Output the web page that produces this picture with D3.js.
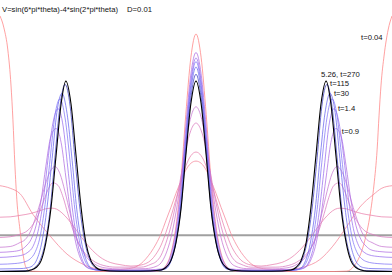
<!DOCTYPE html>
<html>
<head>
<meta charset="utf-8">
<script src="https://cdnjs.cloudflare.com/ajax/libs/d3/7.8.5/d3.min.js"></script>
<style>
body { margin: 0; background: #fff; }
text { font-family: 'Liberation Sans', Arial, sans-serif; font-size: 7.7px; fill: #111; }
</style>
</head>
<body>
<script>
// density p(theta) at several times, [theta, p]
var p004 = [[0,7.06],[.010,6.73],[.020,6.12],[.028,5.15],[.033,4.19],[.038,2.94],[.043,1.98],[.051,1.15],[.059,.46],[.066,.12],[.077,.01],[.102,0],[.383,0],[.398,.01],[.411,.04],[.423,.16],[.436,.5],[.449,1.25],[.462,2.59],[.474,4.34],[.487,5.92],[.5,6.56],[.513,5.92],[.526,4.34],[.538,2.59],[.551,1.25],[.564,.5],[.577,.16],[.589,.04],[.602,.01],[.617,0],[.855,0],[.885,.01],[.903,.15],[.918,.43],[.931,.87],[.944,1.56],[.954,2.39],[.962,3.36],[.967,4.32],[.972,5.15],[.980,5.98],[.990,6.67],[1,7.06]]
var p01 = [[0,2.37],[.026,2.3],[.051,2.15],[.084,1.58],[.128,.98],[.171,.48],[.212,.2],[.247,.08],[.293,.05],[.321,.07],[.347,.13],[.360,.22],[.372,.35],[.385,.53],[.398,.76],[.411,1.05],[.423,1.4],[.436,1.77],[.449,2.16],[.462,2.51],[.474,2.8],[.487,2.99],[.5,3.05],[.513,2.99],[.526,2.8],[.538,2.51],[.551,2.16],[.564,1.77],[.577,1.4],[.589,1.05],[.602,.76],[.615,.53],[.628,.35],[.640,.22],[.653,.13],[.679,.07],[.727,.05],[.773,.12],[.816,.33],[.849,.7],[.885,1.25],[.918,1.78],[.952,2.12],[.974,2.3],[1,2.37]]
var p02 = [[0,1.5],[.026,1.51],[.051,1.55],[.077,1.6],[.102,1.68],[.120,1.74],[.133,1.75],[.145,1.72],[.158,1.62],[.173,1.45],[.191,1.2],[.209,.93],[.230,.65],[.255,.4],[.281,.25],[.306,.19],[.334,.15],[.360,.18],[.372,.22],[.385,.31],[.398,.48],[.411,.73],[.423,1.07],[.436,1.51],[.449,2.0],[.462,2.49],[.474,2.91],[.487,3.2],[.5,3.3],[.513,3.2],[.526,2.91],[.538,2.49],[.551,2.0],[.564,1.51],[.577,1.07],[.589,.73],[.602,.48],[.615,.31],[.628,.22],[.640,.18],[.666,.15],[.694,.19],[.719,.25],[.745,.4],[.770,.65],[.791,.93],[.809,1.2],[.827,1.45],[.842,1.62],[.855,1.72],[.867,1.75],[.880,1.74],[.898,1.68],[.923,1.6],[.949,1.55],[.974,1.51],[1,1.5]]
var p04 = [[0,.94],[.026,.96],[.051,1.03],[.069,1.12],[.084,1.3],[.097,1.55],[.110,1.9],[.122,2.25],[.135,2.45],[.148,2.38],[.161,2.05],[.173,1.6],[.186,1.15],[.199,.8],[.217,.5],[.237,.3],[.263,.17],[.296,.12],[.334,.12],[.360,.12],[.385,.2],[.398,.27],[.411,.45],[.423,.78],[.436,1.25],[.449,1.9],[.462,2.65],[.474,3.37],[.487,3.9],[.5,4.1],[.513,3.9],[.526,3.37],[.538,2.65],[.551,1.9],[.564,1.25],[.577,.78],[.589,.45],[.602,.27],[.615,.2],[.640,.12],[.666,.12],[.704,.12],[.737,.17],[.763,.3],[.783,.5],[.801,.8],[.814,1.15],[.827,1.6],[.839,2.05],[.852,2.38],[.865,2.45],[.878,2.25],[.890,1.9],[.903,1.55],[.916,1.3],[.931,1.12],[.949,1.03],[.974,.96],[1,.94]]
var p06 = [[0,.67],[.026,.69],[.051,.8],[.064,.88],[.077,1.09],[.089,1.43],[.102,1.88],[.115,2.38],[.128,2.76],[.140,2.9],[.153,2.7],[.166,2.2],[.179,1.6],[.191,1.08],[.204,.7],[.222,.38],[.242,.2],[.268,.1],[.306,.07],[.334,.07],[.372,.08],[.398,.14],[.411,.24],[.423,.48],[.436,.93],[.449,1.64],[.462,2.56],[.474,3.53],[.487,4.27],[.5,4.55],[.513,4.27],[.526,3.53],[.538,2.56],[.551,1.64],[.564,.93],[.577,.48],[.589,.24],[.602,.14],[.628,.08],[.666,.07],[.694,.07],[.732,.1],[.758,.2],[.778,.38],[.796,.7],[.809,1.08],[.821,1.6],[.834,2.2],[.847,2.7],[.860,2.9],[.872,2.76],[.885,2.38],[.898,1.88],[.911,1.43],[.923,1.09],[.936,.88],[.949,.8],[.974,.69],[1,.67]]
var p09 = [[0,.53],[.031,.55],[.054,.6],[.066,.7],[.079,.88],[.092,1.27],[.105,1.98],[.117,2.91],[.130,3.74],[.143,3.95],[.156,3.56],[.168,2.61],[.181,1.56],[.194,.76],[.207,.32],[.219,.13],[.237,.07],[.281,.05],[.334,.04],[.383,.05],[.411,.07],[.423,.15],[.436,.46],[.449,1.16],[.462,2.39],[.474,4.0],[.487,5.46],[.5,6.05],[.513,5.46],[.526,4.0],[.538,2.39],[.551,1.16],[.564,.46],[.577,.15],[.589,.07],[.617,.05],[.666,.04],[.719,.05],[.763,.07],[.781,.13],[.793,.32],[.806,.76],[.819,1.56],[.832,2.61],[.844,3.56],[.857,3.95],[.870,3.74],[.883,2.91],[.895,1.98],[.908,1.27],[.921,.88],[.934,.7],[.946,.6],[.969,.55],[1,.53]]
var p14 = [[0,.39],[.031,.41],[.059,.46],[.071,.53],[.084,.69],[.097,1.11],[.110,1.92],[.122,3.06],[.135,4.1],[.148,4.5],[.161,4.02],[.173,2.86],[.186,1.62],[.199,.73],[.212,.27],[.224,.1],[.242,.05],[.334,.03],[.383,.03],[.411,.05],[.423,.11],[.436,.37],[.449,1.0],[.462,2.17],[.474,3.78],[.487,5.28],[.5,5.9],[.513,5.28],[.526,3.78],[.538,2.17],[.551,1.0],[.564,.37],[.577,.11],[.589,.05],[.617,.03],[.666,.03],[.758,.05],[.776,.1],[.788,.27],[.801,.73],[.814,1.62],[.827,2.86],[.839,4.02],[.852,4.5],[.865,4.1],[.878,3.06],[.890,1.92],[.903,1.11],[.916,.69],[.929,.53],[.941,.46],[.969,.41],[1,.39]]
var p5 = [[0,.2],[.038,.22],[.064,.27],[.077,.35],[.089,.52],[.102,.95],[.115,1.85],[.128,3.12],[.140,4.3],[.153,4.77],[.166,4.24],[.179,3.02],[.191,1.71],[.204,.77],[.217,.29],[.230,.1],[.247,.04],[.334,.02],[.383,.02],[.423,.09],[.436,.32],[.449,.91],[.462,2.05],[.474,3.65],[.487,5.17],[.5,5.8],[.513,5.17],[.526,3.65],[.538,2.05],[.551,.91],[.564,.32],[.577,.09],[.617,.02],[.666,.02],[.753,.04],[.770,.1],[.783,.29],[.796,.77],[.809,1.71],[.821,3.02],[.834,4.24],[.847,4.77],[.860,4.3],[.872,3.12],[.885,1.85],[.898,.95],[.911,.52],[.923,.35],[.936,.27],[.962,.22],[1,.2]]
var p30 = [[0,.07],[.051,.08],[.069,.1],[.082,.15],[.094,.33],[.107,.82],[.120,1.77],[.133,3.12],[.145,4.39],[.158,4.92],[.171,4.37],[.184,3.07],[.196,1.7],[.209,.75],[.222,.26],[.235,.08],[.255,.03],[.334,.015],[.395,.02],[.423,.075],[.436,.28],[.449,.83],[.462,1.92],[.474,3.49],[.487,5.01],[.5,5.65],[.513,5.01],[.526,3.49],[.538,1.92],[.551,.83],[.564,.28],[.577,.075],[.605,.02],[.666,.015],[.745,.03],[.765,.08],[.778,.26],[.791,.75],[.804,1.7],[.816,3.07],[.829,4.37],[.842,4.92],[.855,4.39],[.867,3.12],[.880,1.77],[.893,.82],[.906,.33],[.918,.15],[.931,.1],[.949,.08],[1,.07]]
var p115 = [[0,.01],[.064,.02],[.077,.04],[.089,.11],[.102,.3],[.115,.79],[.128,1.72],[.140,3.14],[.153,4.56],[.166,5.17],[.179,4.56],[.191,3.14],[.204,1.72],[.217,.79],[.230,.3],[.242,.11],[.255,.04],[.281,.015],[.334,.01],[.383,.015],[.411,.04],[.423,.11],[.436,.31],[.449,.83],[.462,1.81],[.474,3.31],[.487,4.81],[.5,5.45],[.513,4.81],[.526,3.31],[.538,1.81],[.551,.83],[.564,.31],[.577,.11],[.589,.04],[.617,.015],[.666,.01],[.719,.015],[.745,.04],[.758,.11],[.770,.3],[.783,.79],[.796,1.72],[.809,3.14],[.821,4.56],[.834,5.17],[.847,4.56],[.860,3.14],[.872,1.72],[.885,.79],[.898,.3],[.911,.11],[.923,.04],[.936,.02],[1,.01]]
var p270 = [[0,0],[.064,.01],[.079,.04],[.092,.11],[.105,.3],[.117,.8],[.130,1.75],[.143,3.2],[.156,4.64],[.168,5.26],[.181,4.64],[.194,3.2],[.207,1.75],[.219,.8],[.232,.3],[.245,.11],[.258,.04],[.281,.015],[.334,.005],[.383,.015],[.411,.04],[.423,.11],[.436,.3],[.449,.8],[.462,1.75],[.474,3.2],[.487,4.64],[.5,5.26],[.513,4.64],[.526,3.2],[.538,1.75],[.551,.8],[.564,.3],[.577,.11],[.589,.04],[.617,.015],[.666,.005],[.719,.015],[.742,.04],[.755,.11],[.768,.3],[.781,.8],[.793,1.75],[.806,3.2],[.819,4.64],[.832,5.26],[.844,4.64],[.857,3.2],[.870,1.75],[.883,.8],[.895,.3],[.908,.11],[.921,.04],[.936,.01],[1,0]]

var curves = [p004, p01, p02, p04, p06, p09, p14, p5, p30, p115, p270]

// reference levels: zero and the uniform density
var refLevels = [0, 1]

// time labels, anchored in data units
var labelText = ['t=0.04', '5.26, t=270', 't=115', 't=30', 't=1.4', 't=0.9']
var labelTheta = [.921, .819, .842, .852, .862, .872]
var labelP = [6.4, 5.37, 5.12, 4.85, 4.43, 3.8]

var colors = ['#ff8484', '#f4869a', '#e882ae', '#da7cc0', '#c878d2', '#b070e2', '#9a70ee', '#8476f6', '#6a68ee', '#4242c2', '#000000']

var width = 392, height = 275

var x = d3.scaleLinear().domain([0, 1]).range([0, width])
var y = d3.scaleLinear().domain([0, 7.5]).range([271.5, 0])

var svg = d3.select('body').append('svg')
    .attr('width', width)
    .attr('height', height)

svg.append('g').selectAll('line').data(refLevels).enter().append('line')
    .attr('x1', x(0)).attr('x2', x(1))
    .attr('y1', function(d){ return y(d) })
    .attr('y2', function(d){ return y(d) })
    .style('stroke', function(d){ return d ? '#a0a0a0' : '#7a7a7a' })
    .style('stroke-width', function(d){ return d ? 2 : 1.2 })

var line = d3.line()
    .x(function(d){ return x(d[0]) })
    .y(function(d){ return y(d[1]) })
    .curve(d3.curveMonotoneX)

svg.append('g').selectAll('path').data(curves).enter().append('path')
    .attr('d', line)
    .style('fill', 'none')
    .style('stroke', function(d, i){ return colors[i] })
    .style('stroke-width', function(d, i){ return i == curves.length - 1 ? 1.1 : 0.9 })
    .style('stroke-opacity', function(d, i){ return i == curves.length - 1 ? 1 : 0.85 })

svg.append('text').attr('x', 2).attr('y', 11.5).text('V=sin(6*pi*theta)-4*sin(2*pi*theta)')
svg.append('text').attr('x', 127).attr('y', 11.5).text('D=0.01')

svg.append('g').selectAll('text').data(labelText).enter().append('text')
    .attr('x', function(d, i){ return x(labelTheta[i]) })
    .attr('y', function(d, i){ return y(labelP[i]) })
    .text(function(d){ return d })
</script>
</body>
</html>
